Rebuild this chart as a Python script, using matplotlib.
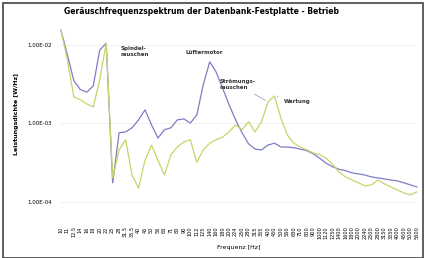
import numpy as np
import matplotlib
matplotlib.use("Agg")
import matplotlib.pyplot as plt
from matplotlib.ticker import FixedLocator, FuncFormatter, NullLocator

# frequency bands (Hz)
freqs = [10, 11, 12.5, 14, 16, 18, 20, 22, 25, 28,
         31.5, 35.5, 40, 45, 50, 56, 63, 71, 80, 90,
         100, 112, 125, 140, 160, 180, 200, 224, 250, 280,
         315, 355, 400, 450, 500, 560, 630, 710, 800, 900,
         1000, 1120, 1250, 1400, 1600, 1800, 2000, 2240, 2500, 2800,
         3150, 3550, 4000, 4500, 5000, 5600]

level_a = [1.55e-2, 7.5e-3, 3.5e-3, 2.7e-3, 2.5e-3, 3.0e-3, 8.6e-3, 1.05e-2, 1.75e-4, 7.6e-4,
           7.8e-4, 8.8e-4, 1.11e-3, 1.49e-3, 9.6e-4, 6.5e-4, 8.3e-4, 8.8e-4, 1.11e-3, 1.14e-3,
           1.01e-3, 1.28e-3, 3.1e-3, 6.1e-3, 4.5e-3, 2.8e-3, 1.72e-3, 1.11e-3, 7.6e-4, 5.5e-4,
           4.7e-4, 4.6e-4, 5.3e-4, 5.6e-4, 5.0e-4, 5.0e-4, 4.9e-4, 4.7e-4, 4.5e-4, 4.1e-4,
           3.6e-4, 3.1e-4, 2.8e-4, 2.6e-4, 2.5e-4, 2.34e-4, 2.27e-4, 2.2e-4, 2.08e-4, 2.02e-4,
           1.96e-4, 1.9e-4, 1.85e-4, 1.75e-4, 1.65e-4, 1.55e-4]

level_b = [1.55e-2, 6.5e-3, 2.18e-3, 2.0e-3, 1.77e-3, 1.62e-3, 3.6e-3, 1.05e-2, 2.02e-4, 4.6e-4,
           6.2e-4, 2.2e-4, 1.5e-4, 3.4e-4, 5.3e-4, 3.4e-4, 2.2e-4, 4.0e-4, 5.0e-4, 5.8e-4,
           6.2e-4, 3.2e-4, 4.6e-4, 5.6e-4, 6.2e-4, 6.7e-4, 7.8e-4, 9.6e-4, 8.3e-4, 1.05e-3,
           7.8e-4, 1.05e-3, 1.88e-3, 2.24e-3, 1.17e-3, 7.1e-4, 5.6e-4, 5.0e-4, 4.6e-4, 4.2e-4,
           4.0e-4, 3.6e-4, 3.0e-4, 2.4e-4, 2.08e-4, 1.9e-4, 1.75e-4, 1.6e-4, 1.65e-4, 1.9e-4,
           1.7e-4, 1.55e-4, 1.42e-4, 1.3e-4, 1.23e-4, 1.34e-4]

y_ticks = [1e-2, 1e-3, 1e-4]

# annotation text, band index and series it points to
notes = [("Spindel-\nrauschen", 7, level_a),
         ("Lüftermotor", 23, level_a),
         ("Strömungs-\nrauschen", 32, level_b),
         ("Wartung", 33, level_b)]

fig = plt.figure(figsize=(4.25, 2.58), dpi=100)
ax = fig.add_axes([0.141, 0.198, 0.842, 0.717])

x = np.arange(len(freqs))
ax.plot(x, level_a, color="#7c7ec6", lw=0.9)
ax.plot(x, level_b, color="#c9d36a", lw=0.9)

ax.set_yscale("log")
ax.set_ylim(10 ** -4.064, 10 ** -1.707)
ax.set_xlim(-0.15, len(freqs) - 0.85)
ax.yaxis.set_major_locator(FixedLocator(y_ticks))
ax.yaxis.set_minor_locator(NullLocator())
ax.yaxis.set_major_formatter(FuncFormatter(lambda v, p: "%.2E" % v))
ax.grid(axis="y", color="#eeeeee", lw=0.6)

ax.set_xticks(x)
ax.set_xticklabels([("%g" % f) for f in freqs], rotation=90, fontsize=3.6)
ax.tick_params(axis="x", length=0, pad=14)
ax.tick_params(axis="y", length=0, labelsize=4, pad=6)
for s in ax.spines.values():
    s.set_visible(False)

ax.set_title("Geräuschfrequenzspektrum der Datenbank-Festplatte - Betrieb",
             fontsize=5.5, fontweight="bold", loc="left", x=0.01, pad=6)
ax.set_xlabel("Frequenz [Hz]", fontsize=4.5, labelpad=4)
ax.set_ylabel("Leistungsdichte [W/Hz]", fontsize=4.5, fontweight="bold", labelpad=6)

# label offsets in pixels, and whether a leader line is drawn
offsets = [(14, -14, False), (-24, 7, False), (-48, 12, True), (9, -8, True)]
for (txt, i, series), (dx, dy, lead) in zip(notes, offsets):
    props = dict(arrowstyle="-", color="#999999", lw=0.5) if lead else None
    ax.annotate(txt, xy=(i, series[i]), xytext=(dx, dy), textcoords="offset pixels",
                fontsize=4, fontweight="bold", color="#333333", ha="left", va="bottom",
                arrowprops=props)

fig.patches.append(plt.Rectangle((0.006, 0.0), 0.99, 0.99, transform=fig.transFigure,
                                 fill=False, edgecolor="#444444", lw=1.2))
fig.savefig("out.png", dpi=100)
